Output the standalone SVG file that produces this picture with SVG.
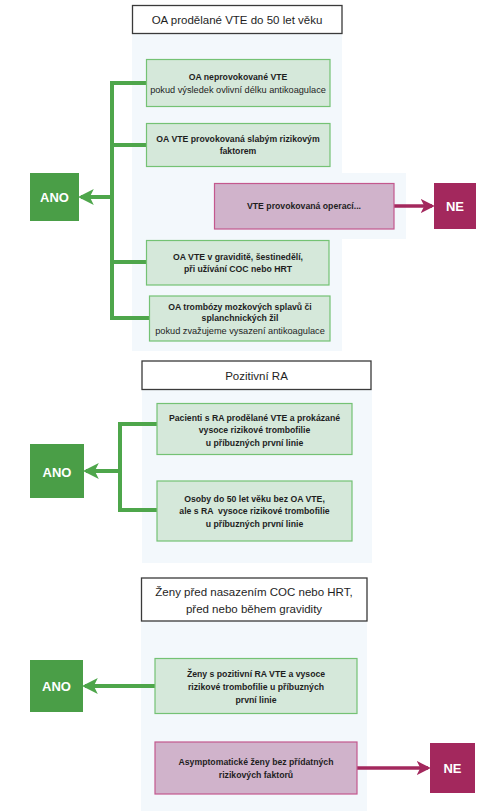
<svg xmlns="http://www.w3.org/2000/svg" width="481" height="811" viewBox="0 0 481 811">
<defs>
<style>
.panel{fill:#f3f8fc;stroke:none}
.hdr{fill:#ffffff;stroke:#3a3a3a;stroke-width:1.3}
.gbox{fill:#d5e8da;stroke:#74c274;stroke-width:1.2}
.pbox{fill:#d0b3cb;stroke:#c4588e;stroke-width:1.2}
.ano{fill:#4a9e47}
.ne{fill:#a3285d}
.t{font-family:"Liberation Sans",Arial,sans-serif;fill:#1e1e1e;text-anchor:middle}
.hd{font-size:11.5px}
.b{font-size:8.7px;font-weight:bold}
.n{font-size:9.2px}
.w{font-family:"Liberation Sans",Arial,sans-serif;fill:#ffffff;font-weight:bold;font-size:13px;text-anchor:middle}
.gl{stroke:#4ea64b;stroke-width:4;fill:none}
.ml{stroke:#a3285d;stroke-width:3.5;fill:none}
</style>
<marker id="ag" markerWidth="4" markerHeight="4" refX="3.2" refY="2" orient="auto" markerUnits="strokeWidth">
<path d="M0,0 L4,2 L0,4 L1,2 Z" fill="#4ea64b"/>
</marker>
<marker id="am" markerWidth="4" markerHeight="4" refX="3.2" refY="2" orient="auto" markerUnits="strokeWidth">
<path d="M0,0 L4,2 L0,4 L1,2 Z" fill="#a3285d"/>
</marker>
</defs>
<rect width="481" height="811" fill="#ffffff"/>

<!-- panels -->
<rect class="panel" x="132" y="33" width="210" height="318"/>
<rect class="panel" x="132" y="173" width="274" height="66"/>
<rect class="panel" x="142" y="389" width="230" height="174"/>
<rect class="panel" x="141" y="621" width="226" height="190"/>

<g id="connectors">
<path class="gl" d="M146,83 H112 V318 H149"/>
<path class="gl" d="M112,145 H146"/>
<path class="gl" d="M112,262 H146"/>
<path class="gl" d="M112,197 H81" marker-end="url(#ag)"/>
<path class="ml" d="M394,206 H432" marker-end="url(#am)"/>
<path class="gl" d="M157,424 H120 V510 H157"/>
<path class="gl" d="M120,471 H86" marker-end="url(#ag)"/>
<path class="gl" d="M155,686 H85" marker-end="url(#ag)"/>
<path class="ml" d="M357,768 H428" marker-end="url(#am)"/>
</g>

<g id="h1">
<rect class="hdr" x="132.5" y="5.5" width="209.5" height="28"/>
<text class="t hd" x="237" y="23.5">OA prodělané VTE do 50 let věku</text>
</g>
<g id="s1b1">
<rect class="gbox" x="146.5" y="59.5" width="183.5" height="47"/>
<text class="t b" x="238" y="80">OA neprovokované VTE</text>
<text class="t n" x="238" y="92.5">pokud výsledek ovlivní délku antikoagulace</text>
</g>
<g id="s1b2">
<rect class="gbox" x="146.5" y="123.5" width="183.5" height="43"/>
<text class="t b" x="238" y="141.5">OA VTE provokovaná slabým rizikovým</text>
<text class="t b" x="238" y="154">faktorem</text>
</g>
<g id="s1p">
<rect class="pbox" x="214.5" y="183.5" width="179.5" height="45.5"/>
<text class="t b" x="304" y="209">VTE provokovaná operací...</text>
</g>
<g id="s1ne">
<rect class="ne" x="434" y="183" width="42" height="46"/>
<text class="w" x="455" y="211">NE</text>
</g>
<g id="s1ano">
<rect class="ano" x="30" y="173" width="49" height="48"/>
<text class="w" x="54.5" y="202">ANO</text>
</g>
<g id="s1b3">
<rect class="gbox" x="146.5" y="240.5" width="182.5" height="44.5"/>
<text class="t b" x="238" y="259.5">OA VTE v graviditě, šestinedělí,</text>
<text class="t b" x="238" y="272">při užívání COC nebo HRT</text>
</g>
<g id="s1b4">
<rect class="gbox" x="149.5" y="296" width="180.5" height="45"/>
<text class="t b" x="240" y="309.5">OA trombózy mozkových splavů či</text>
<text class="t b" x="240" y="320.5">splanchnických žil</text>
<text class="t n" x="240" y="333.5">pokud zvažujeme vysazení antikoagulace</text>
</g>

<g id="h2">
<rect class="hdr" x="142" y="361" width="229" height="28.5"/>
<text class="t hd" x="256.5" y="379.5">Pozitivní RA</text>
</g>
<g id="s2b1">
<rect class="gbox" x="157" y="403.5" width="195" height="51"/>
<text class="t b" x="254.5" y="420.5">Pacienti s RA prodělané VTE a prokázané</text>
<text class="t b" x="254.5" y="433">vysoce rizikové trombofilie</text>
<text class="t b" x="254.5" y="446">u příbuzných první linie</text>
</g>
<g id="s2b2">
<rect class="gbox" x="157" y="481" width="195" height="60"/>
<text class="t b" x="254.5" y="501.5">Osoby do 50 let věku bez OA VTE,</text>
<text class="t b" x="254.5" y="514" xml:space="preserve">ale s RA  vysoce rizikové trombofilie</text>
<text class="t b" x="254.5" y="527">u příbuzných první linie</text>
</g>
<g id="s2ano">
<rect class="ano" x="30" y="444" width="54" height="54"/>
<text class="w" x="57" y="476.5">ANO</text>
</g>

<g id="h3">
<rect class="hdr" x="141.5" y="578" width="225.5" height="43"/>
<text class="t hd" x="254" y="596">Ženy před nasazením COC nebo HRT,</text>
<text class="t hd" x="254" y="612.5">před nebo během gravidity</text>
</g>
<g id="s3b1">
<rect class="gbox" x="155" y="658.5" width="202" height="55"/>
<text class="t b" x="256" y="677">Ženy s pozitivní RA VTE a vysoce</text>
<text class="t b" x="256" y="689.5">rizikové trombofilie u příbuzných</text>
<text class="t b" x="256" y="702.5">první linie</text>
</g>
<g id="s3ano">
<rect class="ano" x="30" y="660" width="53" height="52"/>
<text class="w" x="56.5" y="691">ANO</text>
</g>
<g id="s3p">
<rect class="pbox" x="155" y="742" width="202" height="52"/>
<text class="t b" x="256" y="764.5">Asymptomatické ženy bez přídatných</text>
<text class="t b" x="256" y="777.5">rizikových faktorů</text>
</g>
<g id="s3ne">
<rect class="ne" x="430" y="743" width="45" height="50"/>
<text class="w" x="452.5" y="772.5">NE</text>
</g>
</svg>
